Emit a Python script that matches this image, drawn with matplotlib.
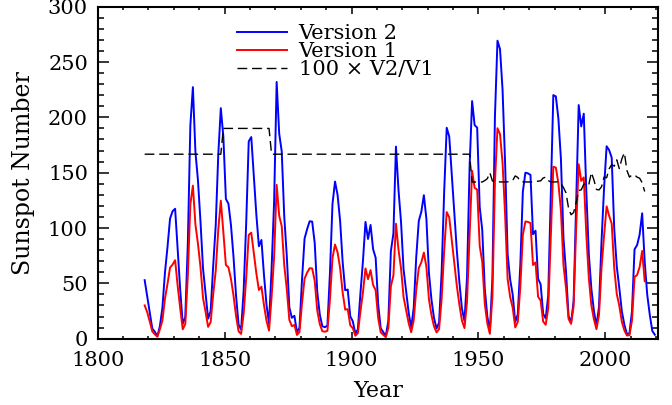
import numpy as np
import matplotlib
matplotlib.use('Agg')
import matplotlib.pyplot as plt
from matplotlib.ticker import MultipleLocator

# yearly sunspot numbers, version 2 (1818 - 2019)
v2_start = 1818
v2 = [52.9, 38.5,
      24.2, 9.2, 6.3, 2.2, 11.4, 28.2, 59.9, 83.0, 108.5, 115.2,
      117.4, 80.8, 44.3, 13.4, 19.5, 85.8, 192.7, 227.3, 168.7, 143.0,
      105.5, 63.3, 40.3, 18.1, 25.1, 65.8, 102.7, 166.3, 208.3, 182.5,
      126.3, 122.0, 102.7, 74.1, 39.0, 12.7, 8.2, 43.4, 104.4, 178.3,
      182.2, 146.6, 112.1, 83.5, 89.2, 57.8, 30.7, 13.9, 62.8, 123.6,
      232.0, 185.3, 169.2, 110.1, 74.5, 28.3, 18.9, 20.7, 5.7, 10.0,
      53.7, 90.5, 99.0, 106.1, 105.8, 86.3, 42.4, 21.8, 11.2, 10.4,
      11.8, 59.5, 121.7, 142.0, 130.0, 106.6, 69.4, 43.8, 44.4, 20.2,
      15.7, 4.6, 8.5, 40.8, 70.1, 105.5, 90.1, 102.8, 80.9, 73.2,
      30.9, 9.5, 6.0, 2.4, 16.1, 79.0, 95.0, 173.6, 134.6, 105.7,
      62.7, 43.5, 23.7, 9.7, 27.9, 74.0, 106.5, 114.7, 129.7, 108.2,
      59.4, 35.1, 18.6, 9.2, 14.6, 60.2, 132.8, 190.6, 182.6, 148.0,
      113.0, 79.2, 50.8, 27.1, 16.1, 55.3, 154.3, 214.7, 193.0, 190.7,
      118.9, 98.3, 45.0, 20.1, 6.6, 54.2, 200.7, 269.3, 261.7, 225.1,
      159.0, 76.4, 53.4, 39.9, 15.0, 22.0, 66.8, 132.9, 150.0, 149.4,
      148.0, 94.4, 97.6, 54.1, 49.2, 22.5, 18.4, 39.3, 131.0, 220.1,
      218.9, 198.9, 162.4, 91.0, 60.5, 20.6, 14.8, 33.9, 123.0, 211.1,
      191.8, 203.3, 133.0, 76.1, 44.9, 25.1, 11.6, 28.9, 88.3, 136.3,
      173.9, 170.4, 163.6, 99.3, 65.3, 45.8, 24.7, 12.6, 4.2, 4.8,
      24.9, 80.8, 84.5, 94.0, 113.3, 69.8, 39.8, 21.7, 7.0, 3.6]

# version 1 (1818 - 2015)
v1_start = 1818
v1 = [30.1, 23.9,
      15.6, 6.6, 4.0, 1.8, 8.5, 16.6, 36.3, 49.6, 64.2, 67.0,
      70.9, 47.8, 27.5, 8.5, 13.2, 56.9, 121.5, 138.3, 103.2, 85.7,
      64.6, 36.7, 24.2, 10.7, 15.0, 40.1, 61.5, 98.5, 124.7, 96.3,
      66.6, 64.5, 54.1, 39.0, 20.6, 6.7, 4.3, 22.7, 54.8, 93.8,
      95.8, 77.2, 59.1, 44.0, 47.0, 30.5, 16.3, 7.3, 37.6, 74.0,
      139.0, 111.2, 101.6, 66.2, 44.7, 17.0, 11.3, 12.4, 3.4, 6.0,
      32.3, 54.3, 59.7, 63.7, 63.5, 52.2, 25.4, 13.1, 6.8, 6.3,
      7.1, 35.6, 73.0, 85.1, 78.0, 64.0, 41.8, 26.2, 26.7, 12.1,
      9.5, 2.7, 5.0, 24.4, 42.0, 63.5, 53.8, 62.0, 48.5, 43.9,
      18.6, 5.7, 3.6, 1.4, 9.6, 47.4, 57.1, 103.9, 80.6, 63.6,
      37.6, 26.1, 14.2, 5.8, 16.7, 44.3, 63.9, 69.0, 77.8, 64.9,
      35.7, 21.2, 11.1, 5.7, 8.7, 36.1, 79.7, 114.4, 109.6, 88.8,
      67.8, 47.5, 30.6, 16.3, 9.6, 33.2, 92.6, 151.6, 136.3, 134.7,
      83.9, 69.4, 31.5, 13.9, 4.4, 38.0, 141.7, 190.2, 184.8, 159.0,
      112.3, 53.9, 37.6, 27.9, 10.2, 15.1, 47.0, 93.8, 105.9, 105.5,
      104.5, 66.6, 68.9, 38.0, 34.5, 15.5, 12.6, 27.5, 92.5, 155.4,
      154.6, 140.4, 115.9, 66.6, 45.9, 17.9, 13.4, 29.4, 100.2, 157.6,
      142.6, 145.7, 94.3, 54.6, 29.9, 17.5, 8.6, 21.5, 64.3, 93.3,
      119.6, 111.0, 104.0, 63.7, 40.4, 29.8, 15.2, 7.5, 2.9, 3.1,
      16.5, 55.7, 57.6, 64.7, 79.3, 52.0]

# 100 x V2/V1 (1818 - 2015)
ratio_start = 1818
ratio = ([166.7] * 31 + [190.0] * 19 + [166.7] * 79 +
         [141.6, 141.6, 141.6,
          141.7, 141.6, 142.9, 144.6, 150.0, 142.6, 141.6, 141.6, 141.6, 141.6,
          141.6, 141.7, 142.0, 143.0, 147.1, 145.7, 142.1, 141.7, 141.6, 141.6,
          141.6, 141.7, 141.7, 142.4, 142.6, 145.2, 146.0, 142.9, 141.6, 141.6,
          141.6, 141.7, 140.1, 136.6, 131.8, 118.0, 112.0, 114.0, 122.8, 133.9,
          134.5, 139.5, 141.0, 139.4, 150.2, 143.4, 134.9, 134.4, 137.3, 146.1,
          145.4, 153.5, 157.3, 155.9, 161.6, 153.7, 162.5, 168.0, 152.0, 146.0,
          148.0, 148.0, 146.0, 145.0, 141.0, 133.0])

t2 = np.arange(v2_start, v2_start + len(v2)) + 0.5
t1 = np.arange(v1_start, v1_start + len(v1)) + 0.5
tr = np.arange(ratio_start, ratio_start + len(ratio)) + 0.5

plt.rcParams['font.family'] = ['DejaVu Serif']

fig = plt.figure(figsize=(6.72, 4.05), dpi=100)
ax = fig.add_axes([0.1454, 0.1637, 0.8336, 0.8198])

ax.plot(t2, v2, color='#0000ff', lw=1.4, label='Version 2')
ax.plot(t1, v1, color='#ff0000', lw=1.4, label='Version 1')
ax.plot(tr, ratio, color='black', lw=1.0, dashes=(7, 3.5), label='100 \u00d7 V2/V1')

ax.set_xlim(1800, 2020.7)
ax.set_ylim(0, 300)
ax.xaxis.set_major_locator(MultipleLocator(50))
ax.xaxis.set_minor_locator(MultipleLocator(10))
ax.yaxis.set_major_locator(MultipleLocator(50))
ax.yaxis.set_minor_locator(MultipleLocator(10))

ax.tick_params(axis='both', which='both', direction='in', top=True, right=True,
               labelsize=15, width=1.1)
ax.tick_params(axis='x', which='major', length=4.8, pad=9)
ax.tick_params(axis='x', which='minor', length=2.4)
ax.tick_params(axis='y', which='major', length=7.9, pad=7)
ax.tick_params(axis='y', which='minor', length=4.0)
for s in ax.spines.values():
    s.set_linewidth(1.5)

ax.set_xlabel('Year', fontsize=16, labelpad=7)
ax.set_ylabel('Sunspot Number', fontsize=17, labelpad=9)

ax.legend(loc='upper left', bbox_to_anchor=(0.249, 0.947), frameon=False,
          fontsize=15, handlelength=2.4, handletextpad=0.55, labelspacing=-0.05,
          borderpad=0, borderaxespad=0)

fig.savefig('out.png', dpi=100)
